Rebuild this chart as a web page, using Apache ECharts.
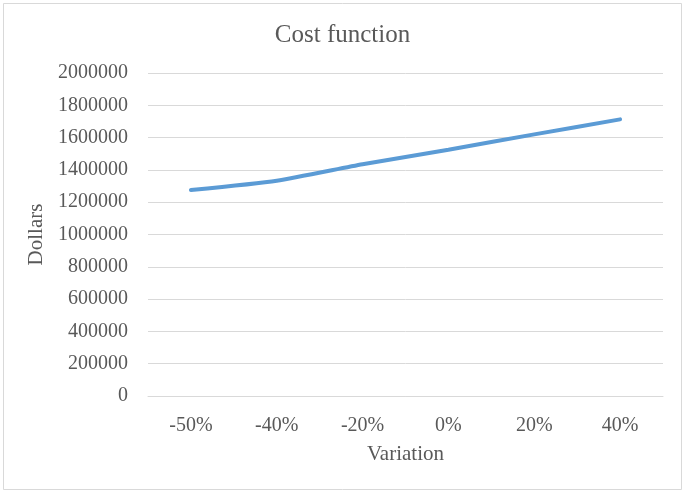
<!DOCTYPE html>
<html>
<head>
<meta charset="utf-8">
<script src="https://cdn.jsdelivr.net/npm/echarts@6/dist/echarts.min.js"></script>
<style>
html,body{margin:0;padding:0;background:#fff;}
#chart{width:685px;height:494px;}
</style>
</head>
<body>
<div id="chart"></div>
<script>
var categories = ['-50%', '-40%', '-20%', '0%', '20%', '40%'];
var costValues = [1275000, 1333000, 1435000, 1525000, 1620000, 1713000];
var yTicks = { min: 0, max: 2000000, interval: 200000 };

var chart = echarts.init(document.getElementById('chart'));
var font = '"Liberation Serif", "Times New Roman", serif';
chart.setOption({
  animation: false,
  backgroundColor: '#fff',
  graphic: [{
    type: 'rect',
    shape: { x: 3.5, y: 3.5, width: 678, height: 486 },
    style: { fill: 'none', stroke: '#d9d9d9', lineWidth: 1 }
  }],
  title: {
    text: 'Cost function',
    left: 'center',
    top: 18,
    textStyle: { fontFamily: font, fontSize: 25, fontWeight: 'normal', color: '#595959' }
  },
  grid: { left: 148, right: 22, top: 73, bottom: 98 },
  xAxis: {
    type: 'category',
    data: categories,
    boundaryGap: true,
    name: 'Variation',
    nameLocation: 'middle',
    nameGap: 48,
    nameTextStyle: { fontFamily: font, fontSize: 21, color: '#595959' },
    axisLine: { lineStyle: { color: '#d9d9d9', width: 1 } },
    axisTick: { show: false },
    axisLabel: { fontFamily: font, fontSize: 20, color: '#595959', margin: 20 }
  },
  yAxis: {
    type: 'value',
    min: yTicks.min,
    max: yTicks.max,
    interval: yTicks.interval,
    name: 'Dollars',
    nameLocation: 'middle',
    nameGap: 99,
    nameTextStyle: { fontFamily: font, fontSize: 21, color: '#595959' },
    axisLine: { show: false },
    axisTick: { show: false },
    axisLabel: { fontFamily: font, fontSize: 20, color: '#595959', margin: 20, formatter: function (v) { return String(v); } },
    splitLine: { lineStyle: { color: '#d9d9d9', width: 1 } }
  },
  series: [{
    type: 'line',
    data: costValues,
    showSymbol: false,
    smooth: 0.2,
    lineStyle: { color: '#5b9bd5', width: 4, cap: 'round' },
    itemStyle: { color: '#5b9bd5' }
  }]
});
</script>
</body>
</html>
